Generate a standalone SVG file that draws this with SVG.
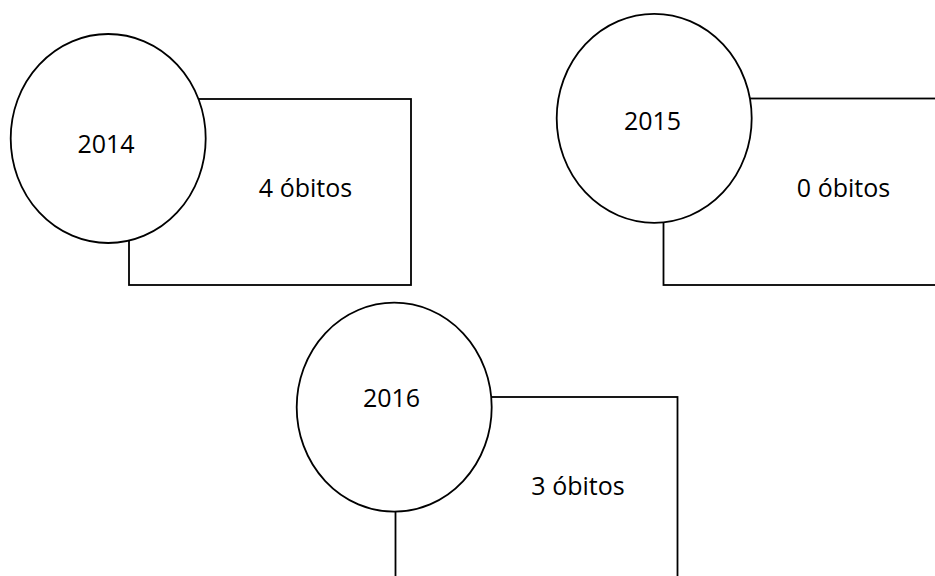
<svg xmlns="http://www.w3.org/2000/svg" width="935" height="576" viewBox="0 0 935 576">
  <style>
    .box { fill: #ffffff; stroke: #000000; stroke-width: 1.8; }
    .year { fill: #ffffff; stroke: #000000; stroke-width: 1.8; }
    text { font-family: "Open Sans", "Noto Sans", sans-serif; font-size: 25px; fill: #000000; }
  </style>
  <rect width="935" height="576" fill="#ffffff"/>

  <!-- 2014 -->
  <g id="node-2014">
    <rect class="box" x="129" y="99" width="282" height="186"/>
    <ellipse class="year" cx="108.2" cy="138.5" rx="97.5" ry="104.5"/>
    <text x="106" y="153" text-anchor="middle">2014</text>
    <text x="305.5" y="197" text-anchor="middle">4 óbitos</text>
  </g>

  <!-- 2015 -->
  <g id="node-2015">
    <rect class="box" x="663.5" y="98.5" width="290" height="186.5"/>
    <ellipse class="year" cx="654.2" cy="118.3" rx="97.5" ry="104.5"/>
    <text x="652.5" y="130" text-anchor="middle">2015</text>
    <text x="843.5" y="197" text-anchor="middle">0 óbitos</text>
  </g>

  <!-- 2016 -->
  <g id="node-2016">
    <rect class="box" x="395.5" y="397" width="282" height="200"/>
    <ellipse class="year" cx="394.2" cy="407.2" rx="97.5" ry="104.5"/>
    <text x="391.5" y="407" text-anchor="middle">2016</text>
    <text x="578" y="495" text-anchor="middle">3 óbitos</text>
  </g>

  <g id="connectors"></g>
</svg>
